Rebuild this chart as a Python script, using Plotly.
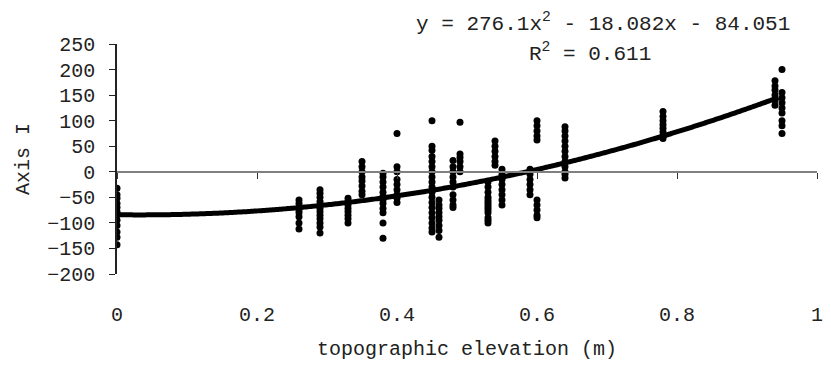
import numpy as np
import plotly.graph_objects as go

# ---- data ----
elev_groups = [0.0, 0.26, 0.29, 0.33, 0.35, 0.38, 0.40, 0.45, 0.46, 0.48, 0.49,
               0.53, 0.54, 0.55, 0.59, 0.60, 0.64, 0.78, 0.94, 0.95]
axis1_groups = [
    [-32, -45, -52, -62, -70, -78, -82, -85, -95, -105, -118, -128, -143],
    [-55, -62, -70, -75, -80, -88, -100, -112],
    [-35, -42, -50, -58, -65, -72, -78, -85, -92, -100, -108, -120],
    [-52, -58, -65, -72, -78, -85, -92, -100],
    [20, 10, 0, -10, -18, -28, -38, -45],
    [-3, -10, -20, -30, -40, -48, -55, -62, -72, -80, -100, -130],
    [75, 10, 0, -15, -25, -35, -45, -52, -60],
    [100, 50, 42, 30, 20, 10, 0, -10, -20, -30, -40, -50, -60, -70, -80, -90, -100, -110, -118],
    [-55, -65, -72, -80, -88, -95, -105, -115, -128],
    [22, 10, 0, -10, -20, -30, -45, -55, -65, -70],
    [97, 35, 28, 20, 10, 0],
    [-20, -30, -40, -50, -55, -60, -65, -70, -75, -80, -90, -95, -100],
    [60, 50, 40, 30, 20, 13],
    [5, -5, -15, -25, -35, -45, -55, -65],
    [5, -5, -15, -25, -35, -45],
    [100, 90, 80, 70, 62, -55, -65, -75, -85, -90],
    [88, 80, 70, 60, 50, 40, 30, 20, 10, 0, -5, -12],
    [118, 108, 100, 92, 85, 78, 70, 65],
    [178, 168, 160, 150, 140, 130],
    [200, 155, 145, 135, 125, 115, 100, 90, 75],
]
fit_coef = [276.1, -18.082, -84.051]
fit_range = [0.0, 0.945]
equation_text = "y = 276.1x<sup>2</sup> - 18.082x - 84.051"
r2_text = "R<sup>2</sup> = 0.611"

xs, ys = [], []
for xv, vals in zip(elev_groups, axis1_groups):
    xs += [xv] * len(vals)
    ys += vals

xfit = np.linspace(fit_range[0], fit_range[1], 400)
yfit = np.polyval(fit_coef, xfit)

FONT = "Liberation Mono, Courier New, monospace"
TXT = "#222222"

fig = go.Figure()
fig.add_trace(go.Scatter(x=xfit, y=yfit, mode="lines",
                         line=dict(color="black", width=5, simplify=False),
                         showlegend=False, hoverinfo="skip"))
fig.add_trace(go.Scatter(x=xs, y=ys, mode="markers",
                         marker=dict(color="black", size=7, symbol="circle"),
                         showlegend=False))
# invisible trace for the crossing axis
fig.add_trace(go.Scatter(x=[0, 1], y=[0, 0], xaxis="x2", mode="markers",
                         marker=dict(opacity=0), showlegend=False, hoverinfo="skip"))

fig.update_layout(
    width=831, height=370,
    margin=dict(l=117, r=8, t=44, b=96),
    paper_bgcolor="white", plot_bgcolor="white",
    font=dict(family=FONT, size=20, color=TXT),
    xaxis=dict(range=[0, 1], tickvals=[0, 0.2, 0.4, 0.6, 0.8, 1],
               ticktext=["0", "0.2", "0.4", "0.6", "0.8", "1"],
               showgrid=False, zeroline=False, showline=False, ticks="",
               ticklabelstandoff=26,
               title=dict(text="topographic elevation (m)", standoff=14,
                          font=dict(size=20))),
    xaxis2=dict(range=[0, 1], overlaying="x", anchor="free",
                position=200 / 450, side="bottom",
                tickvals=[0, 0.2, 0.4, 0.6, 0.8, 1],
                showticklabels=False, ticks="outside", ticklen=6,
                tickcolor="#333333", showgrid=False, zeroline=False,
                showline=True, linecolor="#808080", linewidth=2),
    yaxis=dict(range=[-200, 250], tickvals=list(range(-200, 251, 50)),
               showgrid=False, zeroline=False, showline=True,
               linecolor="#222222", linewidth=1.5, ticks="outside",
               ticklen=6, tickcolor="#222222", ticklabelstandoff=10,
               title=dict(text="Axis I", standoff=12, font=dict(size=20))),
    annotations=[
        dict(text=equation_text, x=798, y=370 - 22, xref="paper", yref="paper",
             showarrow=False, xanchor="right", yanchor="middle",
             font=dict(size=21)),
        dict(text=r2_text, x=658, y=370 - 52, xref="paper", yref="paper",
             showarrow=False, xanchor="right", yanchor="middle",
             font=dict(size=21)),
    ],
)

# convert pixel annotation positions into paper coordinates
pw = 831 - 117 - 8
ph = 370 - 44 - 96
for a in fig.layout.annotations:
    a.x = (a.x - 117) / pw
    a.y = (a.y - 96) / ph

fig.write_html("out.html")
